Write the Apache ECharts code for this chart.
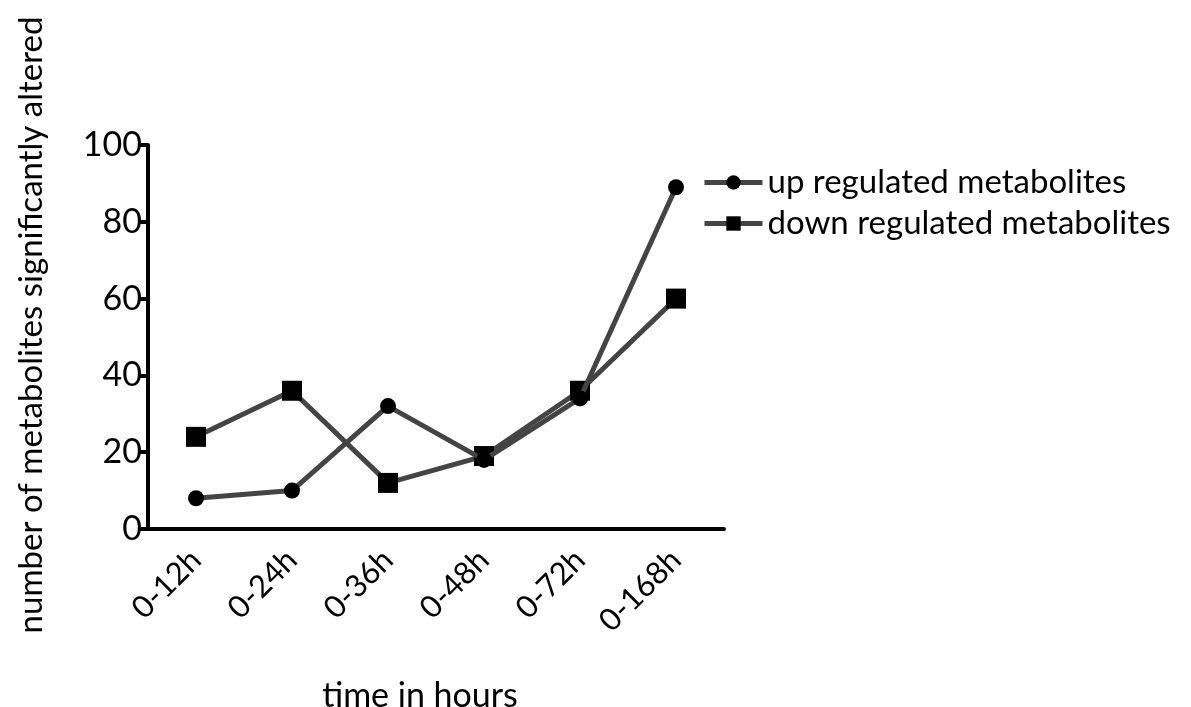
<!DOCTYPE html>
<html><head><meta charset="utf-8">
<script src="https://cdn.jsdelivr.net/npm/echarts@6/dist/echarts.min.js"></script>
<style>html,body{margin:0;padding:0;background:#fff}#c{width:1191px;height:707px}</style>
</head><body><div id="c"></div>
<script>
const categories = ['0-12h','0-24h','0-36h','0-48h','0-72h','0-168h'];
const upValues = [8, 10, 32, 18, 34, 89];
const downValues = [24, 36, 12, 19, 36, 60];
const seriesNames = ['up regulated metabolites','down regulated metabolites'];
const yTicks = {min: 0, max: 100, interval: 20};

const FONT = 'Lato';
const chart = echarts.init(document.getElementById('c'), null, {renderer: 'canvas'});
chart.setOption({
  animation: false,
  backgroundColor: '#fff',
  textStyle: {fontFamily: FONT, color: '#000'},
  grid: {left: 148, top: 145, width: 576, height: 384, containLabel: false, outerBoundsMode: 'none'},
  legend: {
    left: 697, top: 161, orient: 'vertical', itemGap: 8,
    itemWidth: 58, itemHeight: 18,
    lineStyle: {width: 5, color: '#444'},
    textStyle: {fontFamily: FONT, fontSize: 33, color: '#000'},
    data: seriesNames
  },
  xAxis: {
    type: 'category', data: categories, boundaryGap: true,
    name: 'time in hours', nameLocation: 'middle', nameGap: 150,
    nameTextStyle: {fontFamily: FONT, fontSize: 34, color: '#000', padding: [0, 32, 0, 0]},
    axisLine: {lineStyle: {color: '#000', width: 4}},
    axisTick: {alignWithLabel: true, length: 14, lineStyle: {color: '#000', width: 4}},
    axisLabel: {rotate: 45, fontFamily: FONT, fontSize: 31, color: '#000', margin: 26}
  },
  yAxis: {
    type: 'value', min: yTicks.min, max: yTicks.max, interval: yTicks.interval,
    name: 'number of metabolites significantly altered', nameLocation: 'middle', nameGap: 100,
    nameTextStyle: {fontFamily: FONT, fontSize: 33, color: '#000', padding: [0, 0, 0, 24]},
    axisLine: {show: true, lineStyle: {color: '#000', width: 4}},
    axisTick: {show: true, length: 10, lineStyle: {color: '#000', width: 4}},
    splitLine: {show: false},
    axisLabel: {fontFamily: FONT, fontSize: 34, color: '#000', margin: 6}
  },
  series: [
    {name: seriesNames[0], type: 'line', data: upValues, symbol: 'circle', symbolSize: 16,
     lineStyle: {color: '#444', width: 5}, itemStyle: {color: '#000'}, z: 3},
    {name: seriesNames[1], type: 'line', data: downValues, symbol: 'rect', symbolSize: 20,
     lineStyle: {color: '#444', width: 5}, itemStyle: {color: '#000'}, z: 2}
  ]
});
</script></body></html>
